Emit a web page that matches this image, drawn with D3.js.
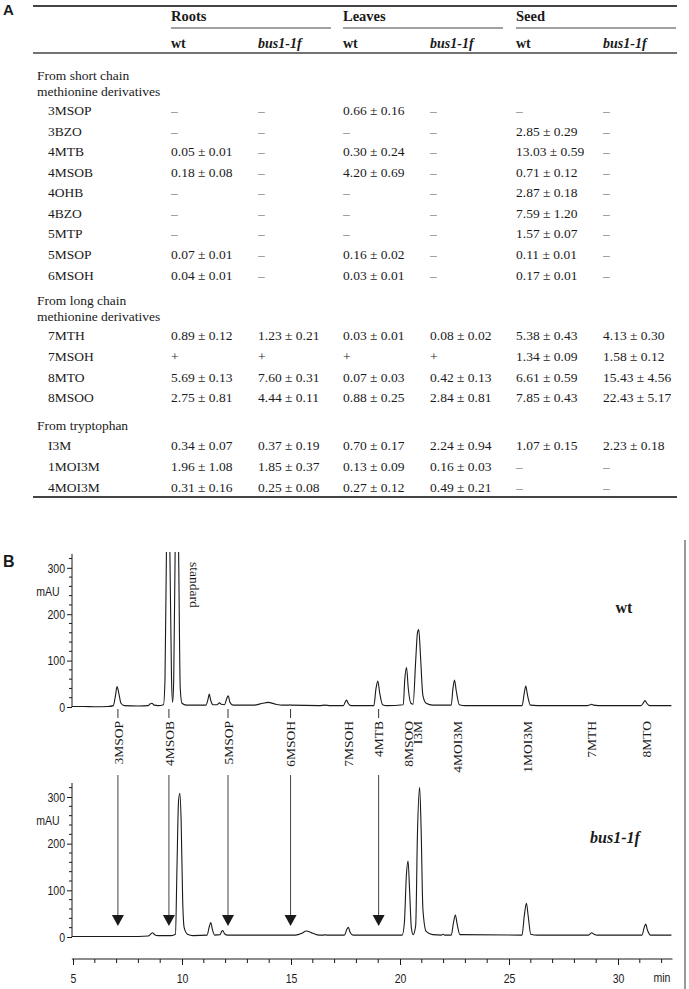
<!DOCTYPE html>
<html><head><meta charset="utf-8">
<script src="https://cdn.jsdelivr.net/npm/d3@7"></script>
<style>body{margin:0;background:#fff}svg{display:block}</style>
</head><body>
<svg id="fig" width="689" height="989"></svg>
<script>
// ---------- DATA: table ----------
const organs = ["Roots", "Leaves", "Seed"];
const genotypes = ["wt", "bus1-1f"];
const sectionTitles = [["From short chain", "methionine derivatives"], ["From long chain", "methionine derivatives"], ["From tryptophan"]];
const compounds = ["3MSOP","3BZO","4MTB","4MSOB","4OHB","4BZO","5MTP","5MSOP","6MSOH","7MTH","7MSOH","8MTO","8MSOO","I3M","1MOI3M","4MOI3M"];
const compoundSection = [0,0,0,0,0,0,0,0,0,1,1,1,1,2,2,2];
const rootsWt   = ["–","–","0.05 ± 0.01","0.18 ± 0.08","–","–","–","0.07 ± 0.01","0.04 ± 0.01","0.89 ± 0.12","+","5.69 ± 0.13","2.75 ± 0.81","0.34 ± 0.07","1.96 ± 1.08","0.31 ± 0.16"];
const rootsBus  = ["–","–","–","–","–","–","–","–","–","1.23 ± 0.21","+","7.60 ± 0.31","4.44 ± 0.11","0.37 ± 0.19","1.85 ± 0.37","0.25 ± 0.08"];
const leavesWt  = ["0.66 ± 0.16","–","0.30 ± 0.24","4.20 ± 0.69","–","–","–","0.16 ± 0.02","0.03 ± 0.01","0.03 ± 0.01","+","0.07 ± 0.03","0.88 ± 0.25","0.70 ± 0.17","0.13 ± 0.09","0.27 ± 0.12"];
const leavesBus = ["–","–","–","–","–","–","–","–","–","0.08 ± 0.02","+","0.42 ± 0.13","2.84 ± 0.81","2.24 ± 0.94","0.16 ± 0.03","0.49 ± 0.21"];
const seedWt    = ["–","2.85 ± 0.29","13.03 ± 0.59","0.71 ± 0.12","2.87 ± 0.18","7.59 ± 1.20","1.57 ± 0.07","0.11 ± 0.01","0.17 ± 0.01","5.38 ± 0.43","1.34 ± 0.09","6.61 ± 0.59","7.85 ± 0.43","1.07 ± 0.15","–","–"];
const seedBus   = ["–","–","–","–","–","–","–","–","–","4.13 ± 0.30","1.58 ± 0.12","15.43 ± 4.56","22.43 ± 5.17","2.23 ± 0.18","–","–"];

// ---------- DATA: chromatograms (retention time min, absorbance mAU) ----------
const wtTrace = [[4.95,1],[5.5,1],[6.0,0.5],[6.6,1],[6.85,3],[6.95,25],[7.02,44],[7.1,30],[7.2,8],[7.35,3],[8.0,2],[8.45,3],[8.55,7],[8.62,8],[8.72,4],[8.9,3],[9.15,5],[9.22,60],[9.3,400],[9.36,520],[9.44,350],[9.52,60],[9.57,10],[9.62,60],[9.7,400],[9.76,520],[9.84,350],[9.92,40],[10.0,8],[10.2,4],[11.1,4],[11.2,18],[11.25,28],[11.32,14],[11.42,5],[11.6,5],[11.72,9],[11.8,6],[11.95,5],[12.05,18],[12.12,24],[12.2,10],[12.35,4],[13.3,4],[13.7,8],[13.95,10],[14.3,6],[14.6,4],[14.9,4],[14.95,5],[15.0,4],[16.3,3],[16.55,4],[16.8,3],[17.4,3],[17.5,12],[17.55,15],[17.62,8],[17.75,3],[18.8,3],[18.9,40],[18.98,56],[19.07,30],[19.2,5],[19.4,3],[20.15,5],[20.22,60],[20.3,85],[20.38,40],[20.5,8],[20.6,6],[20.72,100],[20.8,160],[20.86,167],[20.94,110],[21.05,25],[21.2,8],[21.5,4],[22.35,4],[22.43,40],[22.5,58],[22.58,35],[22.72,5],[23.0,3],[25.6,3],[25.7,30],[25.77,45],[25.85,25],[25.98,4],[26.3,3],[28.6,3],[28.75,5],[28.8,6],[28.87,4],[29.1,3],[31.05,3],[31.18,10],[31.24,14],[31.32,8],[31.45,3],[32.45,3]];
const busTrace = [[4.95,1],[6.0,1],[7.0,1],[8.0,1],[8.45,2],[8.58,7],[8.65,9],[8.75,5],[8.9,3],[9.5,3],[9.7,6],[9.77,150],[9.84,290],[9.9,308],[9.96,250],[10.03,80],[10.1,20],[10.25,6],[10.5,3],[11.15,4],[11.25,22],[11.32,31],[11.4,15],[11.5,4],[11.75,5],[11.82,12],[11.87,14],[11.95,7],[12.1,4],[15.2,4],[15.5,8],[15.7,13],[16.0,8],[16.3,4],[16.5,4],[16.56,5],[16.65,4],[17.45,4],[17.55,15],[17.63,21],[17.71,10],[17.85,4],[20.1,4],[20.2,30],[20.29,130],[20.37,163],[20.44,100],[20.52,20],[20.6,5],[20.72,25],[20.8,220],[20.9,321],[20.97,230],[21.05,60],[21.2,12],[21.5,5],[21.9,4],[21.97,6],[22.05,4],[22.35,4],[22.45,30],[22.54,47],[22.62,28],[22.75,5],[25.6,4],[25.7,45],[25.8,72],[25.88,45],[26.0,6],[26.3,4],[28.65,4],[28.8,9],[28.9,6],[29.05,4],[31.1,4],[31.2,20],[31.27,28],[31.35,15],[31.5,4],[32.45,4]];

const peakLabels = ["3MSOP","4MSOB","5MSOP","6MSOH","7MSOH","4MTB","8MSOO","I3M","4MOI3M","1MOI3M","7MTH","8MTO"];
const peakLabelTimes = [7.06, 9.40, 12.11, 14.98, 17.61, 19.02, 20.39, 20.80, 22.61, 25.83, 28.76, 31.28];
const missingInMutant = ["3MSOP","4MSOB","5MSOP","6MSOH","4MTB"];
const yTickLabels = [0, 100, 200, 300];
const xTickLabels = [5, 10, 15, 20, 25, 30];

// ---------- DRAW ----------
const svg = d3.select("#fig");
const serif = "'Liberation Serif','Times New Roman',serif";
const sans = "'Liberation Sans',Arial,sans-serif";
const ink = "#1a1a1a";

function condense(sel, f){
  sel.each(function(){
    const w = this.getComputedTextLength();
    if (w > 0) { this.setAttribute("textLength", (w*f).toFixed(2)); this.setAttribute("lengthAdjust","spacingAndGlyphs"); }
  });
}

// Panel letters
svg.append("text").attr("x", 3).attr("y", 15).text("A")
  .attr("font-family",sans).attr("font-weight","bold").attr("font-size",15).attr("fill",ink);
svg.append("text").attr("x", 3).attr("y", 567).text("B")
  .attr("font-family",sans).attr("font-weight","bold").attr("font-size",16).attr("fill",ink);

// ---- Table ----
const tX0 = 33, tX1 = 677;
const colX = [171, 258, 343, 430, 516, 603];
const columns = [rootsWt, rootsBus, leavesWt, leavesBus, seedWt, seedBus];
const rowY = [110.5,131,151.5,172,192.5,213,233.5,254.5,275, 335.5,356,377,397.5, 445.7,466.5,487.3];
const titleY = [[75,91],[300,316.5],[425]];
const T = svg.append("g");

function rule(y, x0, x1, w){ T.append("line").attr("x1",x0).attr("x2",x1).attr("y1",y).attr("y2",y).attr("stroke","#444").attr("stroke-width",w); }
rule(6, tX0, tX1, 1.8);
organs.forEach((o,i)=>{
  T.append("text").attr("x",colX[i*2]).attr("y",16).attr("dy","0.35em").text(o)
    .attr("font-family",serif).attr("font-weight","bold").attr("font-size",14.5).attr("fill",ink);
  rule(28, colX[i*2], colX[i*2]+160, 1.1);
  genotypes.forEach((g,j)=>{
    T.append("text").attr("x",colX[i*2+j]).attr("y",43).attr("dy","0.35em").text(g)
      .attr("font-family",serif).attr("font-weight","bold").attr("font-style", j===1?"italic":"normal")
      .attr("font-size",14).attr("fill",ink);
  });
});
rule(53, tX0, tX1, 1.5);
sectionTitles.forEach((lines,s)=>{
  lines.forEach((l,k)=>{
    T.append("text").attr("x",37).attr("y",titleY[s][k]).attr("dy","0.35em").text(l)
      .attr("font-family",serif).attr("font-size",13.5).attr("fill",ink);
  });
});
compounds.forEach((c,r)=>{
  T.append("text").attr("x",48).attr("y",rowY[r]).attr("dy","0.35em").text(c)
    .attr("font-family",serif).attr("font-size",13.5).attr("fill",ink);
  columns.forEach((col,ci)=>{
    const v = col[r];
    T.append("text").attr("x",colX[ci]).attr("y",rowY[r]).attr("dy","0.35em").text(v)
      .attr("font-family",serif).attr("font-size",13.5).attr("fill", v==="–" ? "#777" : ink);
  });
});
rule(497, tX0, tX1, 1.8);

// ---- Chromatograms ----
const x = d3.scaleLinear().domain([5, 30]).range([73, 618]);
const yTop = d3.scaleLinear().domain([0, 330]).range([707, 553.9]);
const yBot = d3.scaleLinear().domain([0, 330]).range([937, 783]);
const tStart = 4.95;

svg.append("clipPath").attr("id","clipTop").append("rect").attr("x",60).attr("y",552).attr("width",620).attr("height",200);

function yAxis(y){
  const g = svg.append("g").attr("transform","translate(72,0)");
  g.call(d3.axisLeft(y).tickValues(yTickLabels).tickSize(5).tickPadding(2).tickFormat(d3.format("d")));
  g.select(".domain").remove();
  g.selectAll("text").attr("font-family",sans).attr("font-size",13.5).attr("fill",ink).call(condense, 0.78);
  g.selectAll("line").attr("stroke",ink);
  const minor = d3.range(0, 330, 20).filter(v=>v%100!==0);
  g.selectAll(".minor").data(minor).join("line").attr("class","minor")
    .attr("x1",-3).attr("x2",0).attr("y1",d=>y(d)).attr("y2",d=>y(d)).attr("stroke",ink);
  g.append("line").attr("x1",0).attr("x2",0).attr("y1",y(0)).attr("y2",y(330)).attr("stroke",ink);
  svg.append("text").attr("x",48).attr("y",(y(200)+y(300))/2).attr("dy","0.35em").attr("text-anchor","middle")
    .text("mAU").attr("font-family",sans).attr("font-size",13.5).attr("fill",ink).call(condense, 0.78);
}
yAxis(yTop); yAxis(yBot);

const lineTop = d3.line().x(d=>x(d[0])).y(d=>yTop(d[1])).curve(d3.curveMonotoneX);
const lineBot = d3.line().x(d=>x(d[0])).y(d=>yBot(d[1])).curve(d3.curveMonotoneX);
svg.append("path").attr("d",lineTop(wtTrace)).attr("fill","none").attr("stroke",ink).attr("stroke-width",1.1).attr("clip-path","url(#clipTop)");
svg.append("path").attr("d",lineBot(busTrace)).attr("fill","none").attr("stroke",ink).attr("stroke-width",1.1);

// X axis
const xa = svg.append("g").attr("transform","translate(0,959)");
xa.call(d3.axisBottom(x).tickValues(xTickLabels).tickSize(6).tickPadding(8).tickFormat(d3.format("d")));
xa.select(".domain").remove();
xa.selectAll("text").attr("font-family",sans).attr("font-size",13.5).attr("fill",ink).call(condense, 0.78);
xa.selectAll("line").attr("stroke",ink);
xa.selectAll(".minor").data(d3.range(6, 33, 1).filter(v=>v%5!==0)).join("line").attr("class","minor")
  .attr("x1",d=>x(d)).attr("x2",d=>x(d)).attr("y1",0).attr("y2",4).attr("stroke",ink);
xa.append("line").attr("x1",x(tStart)).attr("x2",x(32.5)).attr("y1",0).attr("y2",0).attr("stroke",ink).attr("stroke-width",1.2);
svg.append("text").attr("x",662).attr("y",977).attr("dy","0.35em").attr("text-anchor","middle").text("min")
  .attr("font-family",sans).attr("font-size",13.5).attr("fill",ink).call(condense, 0.78);

// Compound labels
const L = svg.append("g");
peakLabels.forEach((p,i)=>{
  const px = x(peakLabelTimes[i]);
  L.append("text").attr("transform",`translate(${px},721) rotate(-90)`).attr("text-anchor","end").attr("dy","0.35em")
    .text(p).attr("font-family",serif).attr("font-size",13.5).attr("fill",ink);
  if (missingInMutant.includes(p)) {
    L.append("line").attr("x1",px).attr("x2",px).attr("y1",709).attr("y2",718).attr("stroke","#333");
    L.append("line").attr("x1",px).attr("x2",px).attr("y1",775).attr("y2",916).attr("stroke","#444");
    L.append("path").attr("d",`M${px-6},915 L${px+6},915 L${px},926 Z`).attr("fill",ink);
  }
});
svg.append("text").attr("transform",`translate(${186},562) rotate(90)`).attr("text-anchor","start").attr("dy","-0.3em")
  .text("standard").attr("font-family",serif).attr("font-size",13.5).attr("fill",ink);

svg.append("text").attr("x",624).attr("y",607).attr("dy","0.35em").attr("text-anchor","middle").text("wt")
  .attr("font-family",serif).attr("font-weight","bold").attr("font-size",16).attr("fill",ink);
svg.append("text").attr("x",615).attr("y",837).attr("dy","0.35em").attr("text-anchor","middle").text("bus1-1f")
  .attr("font-family",serif).attr("font-weight","bold").attr("font-style","italic").attr("font-size",16).attr("fill",ink);

// right frame line
svg.append("line").attr("x1",685).attr("x2",685).attr("y1",540).attr("y2",989).attr("stroke","#333").attr("stroke-width",1);
</script>
</body></html>
